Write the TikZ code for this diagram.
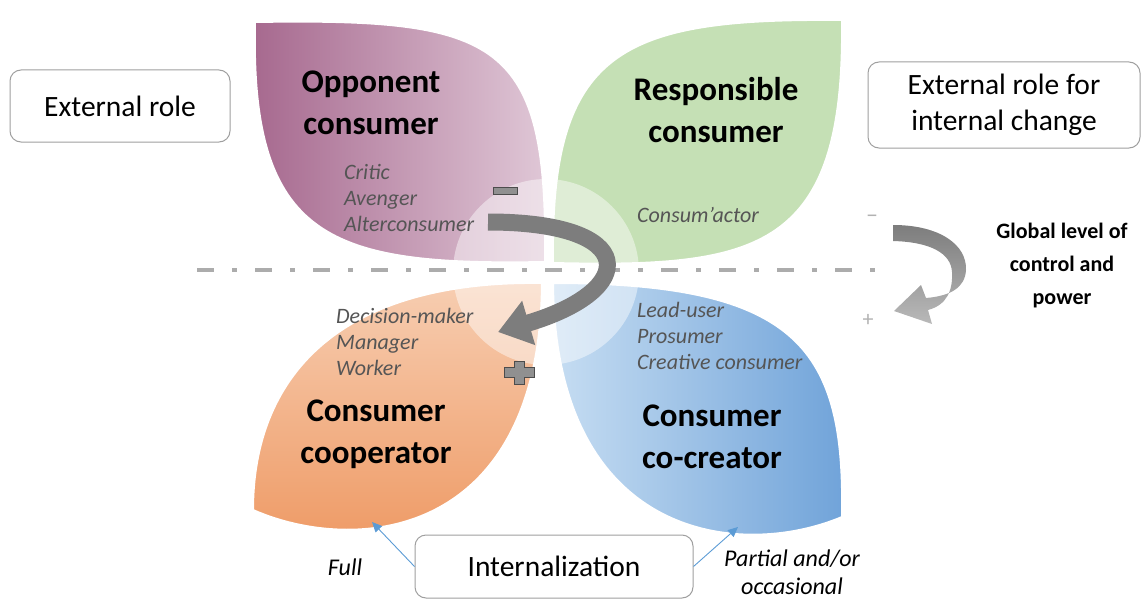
\documentclass[tikz,border=0pt]{standalone}
\usepackage{fontspec}
\setmainfont{Carlito}
\usetikzlibrary{positioning, arrows.meta, shapes.geometric}
\definecolor{purpledark}{RGB}{166,104,142}
\definecolor{purplelight}{RGB}{224,200,215}
\definecolor{leafgreen}{RGB}{197,224,181}
\definecolor{orangelight}{RGB}{247,206,178}
\definecolor{orangedark}{RGB}{238,152,98}
\definecolor{bluelight}{RGB}{198,221,242}
\definecolor{bluedark}{RGB}{112,163,217}
\definecolor{linkblue}{RGB}{91,155,213}
\definecolor{rolegray}{RGB}{85,85,85}
\definecolor{arrowgray}{RGB}{125,125,125}
\definecolor{dashgray}{RGB}{172,172,172}
\tikzset{
    leaf/.style = {draw=white, line width=2pt},
    title/.style = {
        font = \fontsize{33}{42}\selectfont\bfseries,
        align = center, inner sep = 0pt
    },
    roles/.style = {
        font = \fontsize{22}{26}\selectfont\itshape,
        text = rolegray, align = left, inner sep = 0pt
    },
    labelbox/.style = {
        draw = gray!75, line width = 1pt, rounded corners = 11pt,
        fill = white, align = center,
        font = \fontsize{29.5}{36}\selectfont
    },
    note/.style = {font = \fontsize{24}{28}\selectfont\itshape, align = center},
    link/.style = {draw = linkblue, line width = 0.9pt, -{Triangle[width=9pt,length=10pt]}},
    sign/.style = {fill = arrowgray!85, draw = black!70, line width = 0.8pt}
}
\begin{document}
\begin{tikzpicture}[x=1pt, y=-1pt]

    \useasboundingbox (0,0) rectangle (1145,599);

    % Opponent leaf
    \path[leaf, left color = purpledark, right color = purplelight]
        (255,22) .. controls (500,18) and (548,40) .. (545,262)
        .. controls (330,266) and (250,240) .. (255,22) -- cycle;

    % Responsible leaf
    \path[leaf, fill = leafgreen]
        (553,263) .. controls (550,50) and (620,18) .. (842,20)
        .. controls (845,250) and (760,268) .. (553,263) -- cycle;

    % Cooperator leaf
    \path[leaf, top color = orangelight, bottom color = orangedark]
        (542,283) .. controls (335,280) and (253,380) .. (253,510)
        .. controls (355,555) and (540,540) .. (542,283) -- cycle;

    % Co-creator leaf
    \path[leaf, left color = bluelight, right color = bluedark]
        (553,283) .. controls (800,283) and (845,350) .. (842,517)
        .. controls (740,560) and (555,540) .. (553,283) -- cycle;

    % Light centre
    \fill[white, opacity = 0.45] (546,272) circle (93);

    % Dash-dot axis
    \draw[dashgray, line width = 4.5pt,
        dash pattern = on 17pt off 18pt on 5pt off 18pt]
        (197,270) -- (880,270);

    % Centre arrow
    \draw[arrowgray, line width = 17pt, -{Triangle[width=44pt,length=32pt]}]
        (488,222) .. controls (640,222) and (640,290) .. (498,332);

    % Minus and plus
    \path[sign] (493,187) rectangle (517,194);
    \path[sign] (504,367) -- (514,367) -- (514,361) -- (524,361) -- (524,367)
        -- (534,367) -- (534,377) -- (524,377) -- (524,384) -- (514,384)
        -- (514,377) -- (504,377) -- cycle;

    % Side arrow
    \path[top color = arrowgray, bottom color = gray!55]
        (893,225) .. controls (940,225) and (967,245) .. (966,270)
        .. controls (965,288) and (950,296) .. (926,298)
        -- (921,285) -- (894,311) -- (932,324) -- (928,310)
        .. controls (947,305) and (953,290) .. (952,272)
        .. controls (951,253) and (930,242) .. (893,241) -- cycle;
    \node[text = gray!60, font = \fontsize{24}{24}\selectfont] (minus) at (872,219) {–};
    \node[text = gray!60, font = \fontsize{22}{22}\selectfont] (plus) at (868,320) {+};

    % Titles
    \node[title] (opponent) at (371,103) {Opponent\\consumer};
    \node[title] (responsible) at (716,110) {Responsible\\consumer};
    \node[title] (cooperator) at (376,434) {Consumer\\cooperator};
    \node[title] (cocreator) at (712,437) {Consumer\\co-creator};

    % Roles
    \node[roles, anchor = west] (critic) at (344,198) {Critic\\Avenger\\Alterconsumer};
    \node[roles, anchor = west] (actor) at (637,215) {Consum’actor};
    \node[roles, anchor = west] (decision) at (336,342) {Decision-maker\\Manager\\Worker};
    \node[roles, anchor = west] (leaduser) at (637,336) {Lead-user\\Prosumer\\Creative consumer};

    % Boxes
    \node[labelbox, minimum width = 220pt, minimum height = 72pt] (external) at (120,106) {External role};
    \node[labelbox, minimum width = 272pt, minimum height = 86pt] (internal) at (1004,105)
        {External role for\\internal change};
    \node[labelbox, minimum width = 278pt, minimum height = 63pt] (internalization) at (554,566.5)
        {Internalization};

    % Global level
    \node[font = \fontsize{22}{33}\selectfont\bfseries, align = center] (global) at (1062,266)
        {Global level of\\control and\\power};

    % Internalization links
    \coordinate (fulltip) at (372,522);
    \coordinate (partialtip) at (738,527);
    \draw[link] (internalization.west) -- (fulltip);
    \draw[link] (internalization.east) -- (partialtip);
    \node[note] (full) at (345,567) {Full};
    \node[note] (partial) at (792,572) {Partial and/or\\occasional};

\end{tikzpicture}
\end{document}
